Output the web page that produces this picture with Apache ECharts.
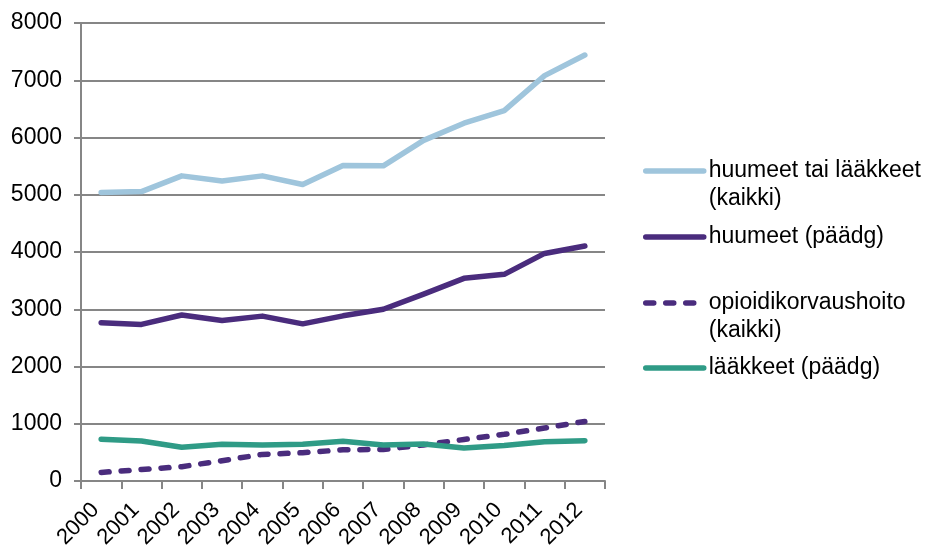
<!DOCTYPE html>
<html>
<head>
<meta charset="utf-8">
<script src="https://cdn.jsdelivr.net/npm/echarts@6/dist/echarts.min.js"></script>
<style>
  html, body { margin: 0; padding: 0; background: #fff; }
  #chart { width: 926px; height: 547px; }
</style>
</head>
<body>
<div id="chart"></div>
<script>
// Years on the category axis
const years = ['2000', '2001', '2002', '2003', '2004', '2005', '2006',
               '2007', '2008', '2009', '2010', '2011', '2012'];

// Series values per year
const huumeetTaiLaakkeet = [5040, 5055, 5330, 5240, 5330, 5180, 5510, 5505, 5950, 6250, 6470, 7080, 7440];
const huumeetPaadg       = [2765, 2735, 2900, 2805, 2880, 2745, 2885, 3000, 3265, 3540, 3610, 3975, 4105];
const opioidikorvaus     = [150, 200, 250, 355, 465, 495, 545, 550, 630, 725, 815, 925, 1040];
const laakkeetPaadg      = [730, 700, 590, 640, 630, 640, 695, 630, 645, 575, 620, 685, 705];

// Series names (legend labels)
const names = [
  'huumeet tai lääkkeet\n(kaikki)',
  'huumeet (päädg)',
  'opioidikorvaushoito\n(kaikki)',
  'lääkkeet (päädg)'
];

// Y axis range
const yMin = 0, yMax = 8000, yStep = 1000;

const FONT = '"Liberation Sans", Arial, sans-serif';
const colors = ['#9fc5dc', '#4a2c7d', '#4a2c7d', '#2f9b86'];
const LINE_W = 5.5;
const DASH = [8, 12];

const chart = echarts.init(document.getElementById('chart'), null, { renderer: 'canvas' });

const LH = 28;
// One legend block per series so each can sit at its own height.
// Two-line names get a blank leading line so the icon lines up with the first text line.
function legendFor(i, top) {
  const multi = names[i].indexOf('\n') >= 0;
  return {
    show: true,
    data: [names[i]],
    left: 643,
    top: top,
    orient: 'vertical',
    padding: 0,
    itemWidth: 58,
    itemHeight: 14,
    itemGap: 0,
    formatter: function (name) { return multi ? ' \n' + name : name; },
    itemStyle: { opacity: 0, borderWidth: 0 },
    lineStyle: {
      width: LINE_W,
      color: colors[i],
      type: i === 2 ? DASH : 'solid',
      cap: 'round'
    },
    textStyle: {
      fontFamily: FONT,
      fontSize: 23,
      color: '#000',
      lineHeight: LH
    },
    selectedMode: false
  };
}

function lineSeries(i, data, dashed) {
  return {
    name: names[i],
    type: 'line',
    data: data,
    symbol: 'none',
    smooth: false,
    animation: false,
    lineStyle: {
      color: colors[i],
      width: LINE_W,
      type: dashed ? DASH : 'solid',
      cap: 'round',
      join: 'round'
    },
    itemStyle: { color: colors[i] },
    z: 10 + i
  };
}

chart.setOption({
  backgroundColor: '#ffffff',
  animation: false,
  grid: {
    left: 81, right: 321, top: 23, bottom: 66,
    containLabel: false,
    outerBoundsMode: 'none'
  },
  legend: [
    legendFor(0, 129),
    legendFor(1, 223),
    legendFor(2, 261),
    legendFor(3, 354)
  ],
  xAxis: {
    type: 'category',
    data: years,
    boundaryGap: true,
    axisLine: { show: true, lineStyle: { color: '#868686', width: 2 } },
    axisTick: { show: true, alignWithLabel: false, length: 8, lineStyle: { color: '#868686', width: 2 } },
    axisLabel: {
      rotate: 45,
      interval: 0,
      hideOverlap: false,
      margin: 20,
      padding: [0, 8, 0, 0],
      fontFamily: FONT,
      fontSize: 22,
      color: '#000'
    },
    splitLine: { show: false }
  },
  yAxis: {
    type: 'value',
    min: yMin,
    max: yMax,
    interval: yStep,
    axisLine: { show: true, lineStyle: { color: '#868686', width: 2 } },
    axisTick: { show: true, length: 7, lineStyle: { color: '#868686', width: 2 } },
    axisLabel: {
      margin: 19,
      fontFamily: FONT,
      fontSize: 23,
      color: '#000',
      formatter: function (v) { return String(v); }
    },
    splitLine: { show: true, lineStyle: { color: '#868686', width: 2 } }
  },
  series: [
    lineSeries(0, huumeetTaiLaakkeet, false),
    lineSeries(1, huumeetPaadg, false),
    lineSeries(2, opioidikorvaus, true),
    lineSeries(3, laakkeetPaadg, false)
  ]
});
</script>
</body>
</html>
